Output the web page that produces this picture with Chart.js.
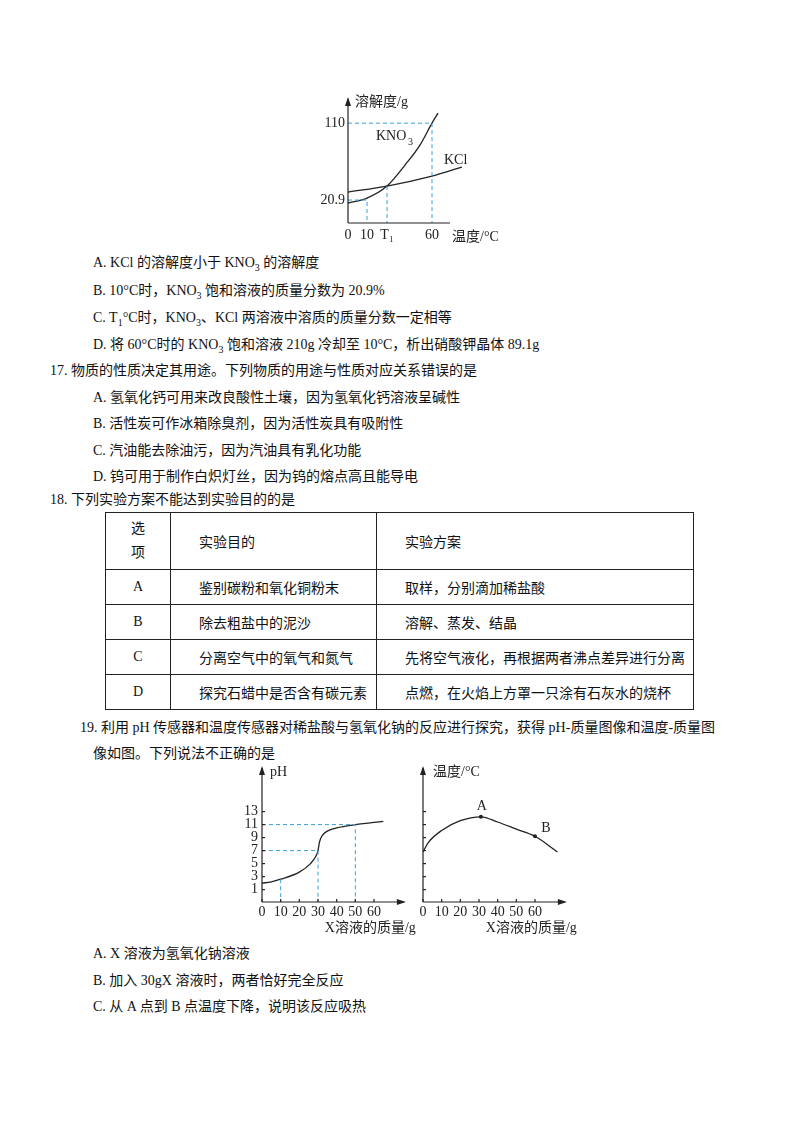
<!DOCTYPE html>
<html><head><meta charset="utf-8">
<script src="https://cdn.jsdelivr.net/npm/chart.js@4"></script>
<style>
body{margin:0;background:#fff;width:800px;height:1132px;position:relative;font-family:"Liberation Serif","Noto Sans CJK SC",serif;font-size:14px;color:#111}
.t{position:absolute;white-space:nowrap;line-height:16px}
canvas{position:absolute}
table{position:absolute;left:105px;top:512px;width:589px;border-collapse:collapse;table-layout:fixed}
td{border:1.3px solid #222;padding:0;height:34px;white-space:nowrap}
sub{font-size:10px}
</style></head><body>
<canvas id="c1" width="220" height="165" style="left:300px;top:85px"></canvas>
<div class="t" style="left:93px;top:255px">A. KCl 的溶解度小于 KNO<sub>3</sub> 的溶解度</div>
<div class="t" style="left:93px;top:283px">B. 10°C时，KNO<sub>3</sub> 饱和溶液的质量分数为 20.9%</div>
<div class="t" style="left:93px;top:310px">C. T<sub>1</sub>°C时，KNO<sub>3</sub>、KCl 两溶液中溶质的质量分数一定相等</div>
<div class="t" style="left:93px;top:337px">D. 将 60°C时的 KNO<sub>3</sub> 饱和溶液 210g 冷却至 10°C，析出硝酸钾晶体 89.1g</div>
<div class="t" style="left:50px;top:363px">17. 物质的性质决定其用途。下列物质的用途与性质对应关系错误的是</div>
<div class="t" style="left:93px;top:390px">A. 氢氧化钙可用来改良酸性土壤，因为氢氧化钙溶液呈碱性</div>
<div class="t" style="left:93px;top:416px">B. 活性炭可作冰箱除臭剂，因为活性炭具有吸附性</div>
<div class="t" style="left:93px;top:443px">C. 汽油能去除油污，因为汽油具有乳化功能</div>
<div class="t" style="left:93px;top:469px">D. 钨可用于制作白炽灯丝，因为钨的熔点高且能导电</div>
<div class="t" style="left:50px;top:492px">18. 下列实验方案不能达到实验目的的是</div>
<table>
<colgroup><col style="width:65px"><col style="width:206px"><col></colgroup>
<tr><td style="height:56px;line-height:24px;text-align:center">选<br>项</td><td style="padding-left:28px">实验目的</td><td style="padding-left:28px">实验方案</td></tr>
<tr><td style="text-align:center">A</td><td style="padding-left:28px">鉴别碳粉和氧化铜粉末</td><td style="padding-left:28px">取样，分别滴加稀盐酸</td></tr>
<tr><td style="text-align:center">B</td><td style="padding-left:28px">除去粗盐中的泥沙</td><td style="padding-left:28px">溶解、蒸发、结晶</td></tr>
<tr><td style="text-align:center">C</td><td style="padding-left:28px">分离空气中的氧气和氮气</td><td style="padding-left:28px">先将空气液化，再根据两者沸点差异进行分离</td></tr>
<tr><td style="text-align:center">D</td><td style="padding-left:28px">探究石蜡中是否含有碳元素</td><td style="padding-left:28px">点燃，在火焰上方罩一只涂有石灰水的烧杯</td></tr>
</table>
<div class="t" style="left:80px;top:720px">19. 利用 pH 传感器和温度传感器对稀盐酸与氢氧化钠的反应进行探究，获得 pH-质量图像和温度-质量图</div>
<div class="t" style="left:93px;top:746px">像如图。下列说法不正确的是</div>
<canvas id="c2" width="200" height="185" style="left:220px;top:755px"></canvas>
<canvas id="c3" width="180" height="185" style="left:410px;top:755px"></canvas>
<div class="t" style="left:93px;top:946px">A. X 溶液为氢氧化钠溶液</div>
<div class="t" style="left:93px;top:973px">B. 加入 30gX 溶液时，两者恰好完全反应</div>
<div class="t" style="left:93px;top:999px">C. 从 A 点到 B 点温度下降，说明该反应吸热</div>
<script>
// solubility chart (schematic x units)
const kno3 = [[0,22],[13.6,27.5],[27.9,40.7],[40.7,63.8],[51.4,85.8],[60,110],[64.3,121]]
const kcl = [[0,34.1],[27.9,40.7],[60,51.7],[81.4,61.6]]
const solXTicks = [[0,'0'],[13.6,'10'],[27.9,'T₁'],[60,'60']]
const solYTicks = [[25.3,'20.9'],[110,'110']]
const guide110 = [[0,110],[60,110],[60,0]]
const guide209 = [[0,25.3],[13.6,25.3],[13.6,0]]
const guideT1 = [[27.9,40.7],[27.9,0]]

// pH chart
const phCurve = [[0,2],[5,2.2],[10,2.6],[20,3.7],[26,5],[29,6.2],[30,7],[30.8,8.3],[32,9.2],[35,10],[40,10.5],[50,11],[65,11.5]]
const phTicks = [1,3,5,7,9,11,13]
const massTicks = [0,10,20,30,40,50,60]
const guide11 = [[0,11],[50,11],[50,-0.9]]
const guide7 = [[0,7],[30,7],[30,-0.9]]
const guide10 = [[10,2.6],[10,-0.9]]

// temperature chart (no units on y)
const tempCurve = [[0,6.8],[3,8.3],[10,10.1],[20,11.6],[31,12.2],[40,11.4],[50,10.3],[60,9.2],[72,6.8]]
const tempPoints = [[31,12.2,'A'],[60,9.2,'B']]

const pts = a => a.map(p => ({ x: p[0], y: p[1] }))
const solid = d => ({ data: pts(d), borderColor: '#222', borderWidth: 1.3, pointRadius: 0, tension: 0.4, cubicInterpolationMode: 'monotone' })
const dash = d => ({ data: pts(d), borderColor: '#3aa0d8', borderWidth: 1, borderDash: [4, 3], pointRadius: 0, tension: 0 })
const FONT = '14px "Liberation Serif", "Noto Sans CJK SC", serif'

function arrow(ctx, x1, y1, x2, y2) {
  ctx.beginPath(); ctx.moveTo(x1, y1); ctx.lineTo(x2, y2); ctx.stroke()
  const a = Math.atan2(y2 - y1, x2 - x1)
  ctx.beginPath()
  ctx.moveTo(x2 + 2 * Math.cos(a), y2 + 2 * Math.sin(a))
  ctx.lineTo(x2 - 7 * Math.cos(a) + 3 * Math.sin(a), y2 - 7 * Math.sin(a) - 3 * Math.cos(a))
  ctx.lineTo(x2 - 7 * Math.cos(a) - 3 * Math.sin(a), y2 - 7 * Math.sin(a) + 3 * Math.cos(a))
  ctx.fill()
}

function makeChart(id, datasets, xr, yr, pad, draw) {
  new Chart(document.getElementById(id), {
    type: 'scatter',
    data: { datasets: datasets.map(d => ({ ...d, showLine: true })) },
    options: {
      responsive: false, animation: false, events: [],
      layout: { padding: pad },
      scales: {
        x: { type: 'linear', min: xr[0], max: xr[1], display: false },
        y: { type: 'linear', min: yr[0], max: yr[1], display: false }
      },
      plugins: { legend: { display: false }, tooltip: { enabled: false } }
    },
    plugins: [{ id: 'axes', afterDatasetsDraw: (chart) => {
      const c = chart.ctx, X = chart.scales.x, Y = chart.scales.y
      c.save(); c.strokeStyle = '#222'; c.fillStyle = '#222'; c.lineWidth = 1.2; c.font = FONT
      draw(c, v => X.getPixelForValue(v), v => Y.getPixelForValue(v))
      c.restore()
    } }]
  })
}

makeChart('c1', [dash(guide110), dash(guide209), dash(guideT1), solid(kno3), solid(kcl)],
  [0, 85], [0, 130], { left: 48, right: 53, top: 20, bottom: 27 }, (c, px, py) => {
    arrow(c, px(0), py(0), px(0), py(0) - 124)
    c.beginPath(); c.moveTo(px(0), py(0)); c.lineTo(px(0) + 102, py(0)); c.stroke()
    c.textBaseline = 'middle'; c.textAlign = 'right'
    solYTicks.forEach(t => c.fillText(t[1], px(0) - 3, py(t[0])))
    c.textAlign = 'center'
    solXTicks.forEach(t => c.fillText(t[1], px(t[0]), py(0) + 12))
    c.textAlign = 'left'
    c.fillText('溶解度/g', px(0) + 7, py(0) - 121)
    c.fillText('温度/°C', px(0) + 104, py(0) + 14)
    c.fillText('KNO', px(0) + 28, py(0) - 87)
    c.font = '10px "Liberation Serif", serif'; c.fillText('3', px(0) + 60, py(0) - 81)
    c.font = FONT; c.fillText('KCl', px(0) + 96, py(0) - 63)
  })

makeChart('c2', [dash(guide11), dash(guide7), dash(guide10), solid(phCurve)],
  [0, 75], [-0.9, 19.7], { left: 42, right: 18, top: 13, bottom: 38 }, (c, px, py) => {
    arrow(c, px(0), py(-0.9), px(0), py(19.7))
    arrow(c, px(0), py(-0.9), px(76), py(-0.9))
    c.textBaseline = 'middle'; c.textAlign = 'right'
    phTicks.forEach(v => { c.fillText(v, px(0) - 4, py(v)); c.beginPath(); c.moveTo(px(0), py(v)); c.lineTo(px(0) + 3, py(v)); c.stroke() })
    c.textAlign = 'center'
    massTicks.forEach(v => { c.fillText(v, px(v), py(-0.9) + 10); c.beginPath(); c.moveTo(px(v), py(-0.9)); c.lineTo(px(v), py(-0.9) - 3); c.stroke() })
    c.fillText('X溶液的质量/g', px(58), py(-0.9) + 26)
    c.textAlign = 'left'; c.fillText('pH', px(0) + 8, py(19.7) + 4)
  })

makeChart('c3', [solid(tempCurve), { data: pts(tempPoints), pointRadius: 2, pointBackgroundColor: '#222', borderWidth: 0, showLine: false }],
  [0, 75], [-0.9, 19.7], { left: 13, right: 27, top: 13, bottom: 38 }, (c, px, py) => {
    arrow(c, px(0), py(-0.9), px(0), py(19.7))
    arrow(c, px(0), py(-0.9), px(76), py(-0.9))
    c.textBaseline = 'middle'
    phTicks.forEach(v => { c.beginPath(); c.moveTo(px(0), py(v)); c.lineTo(px(0) + 3, py(v)); c.stroke() })
    c.textAlign = 'center'
    massTicks.forEach(v => { c.fillText(v, px(v), py(-0.9) + 10); c.beginPath(); c.moveTo(px(v), py(-0.9)); c.lineTo(px(v), py(-0.9) - 3); c.stroke() })
    c.fillText('X溶液的质量/g', px(58), py(-0.9) + 26)
    tempPoints.forEach(p => c.fillText(p[2], px(p[0]) + (p[2] === 'B' ? 11 : 1), py(p[1]) - (p[2] === 'B' ? 8 : 10)))
    c.textAlign = 'left'; c.fillText('温度/°C', px(0) + 10, py(19.7) + 4)
  })
</script>
</body></html>
